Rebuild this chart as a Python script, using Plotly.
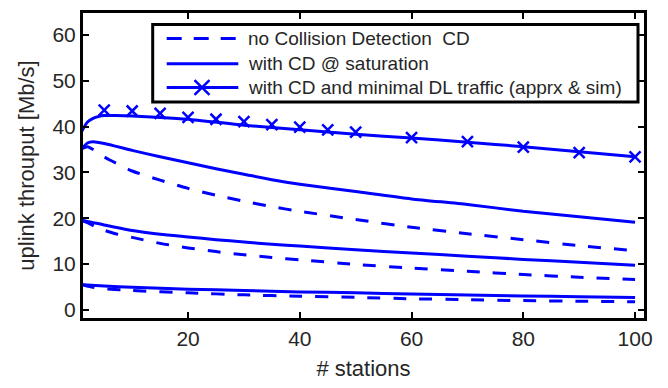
import plotly.graph_objects as go

# ---------------- data ----------------
x_dl_apprx = [1, 2, 3, 4, 5, 7, 10, 15, 20, 30, 40, 50, 60, 70, 80, 90, 100]
y_dl_apprx = [39.0, 41.0, 41.8, 42.2, 42.4, 42.4, 42.3, 42.0, 41.6, 40.3, 39.3, 38.3, 37.5, 36.6, 35.6, 34.5, 33.4]

x_dl_sim = [5, 10, 15, 20, 25, 30, 35, 40, 45, 50, 60, 70, 80, 90, 100]
y_dl_sim = [43.6, 43.4, 42.9, 42.0, 41.6, 41.1, 40.4, 39.9, 39.3, 38.8, 37.6, 36.7, 35.5, 34.3, 33.4]

x_a_sat = [1, 2, 3, 5, 10, 15, 20, 25, 30, 35, 40, 50, 60, 70, 80, 90, 100]
y_a_sat = [35.2, 36.4, 36.7, 36.3, 34.8, 33.4, 32.1, 30.8, 29.6, 28.4, 27.4, 25.8, 24.2, 23.0, 21.5, 20.3, 19.1]
x_a_nocd = [1, 2, 3, 4, 6, 10, 15, 20, 25, 30, 35, 40, 50, 60, 70, 80, 90, 100]
y_a_nocd = [35.2, 35.6, 35.0, 34.1, 32.7, 30.3, 28.3, 26.5, 25.0, 23.7, 22.5, 21.5, 19.7, 18.0, 16.6, 15.3, 14.0, 12.9]

x_b_sat = [1, 2, 5, 10, 15, 20, 25, 30, 35, 40, 50, 60, 70, 80, 90, 100]
y_b_sat = [19.5, 19.3, 18.5, 17.3, 16.5, 15.9, 15.3, 14.8, 14.3, 13.9, 13.1, 12.4, 11.7, 11.0, 10.4, 9.7]
x_b_nocd = [1, 2, 4, 7, 10, 15, 20, 25, 30, 35, 40, 50, 60, 70, 80, 90, 100]
y_b_nocd = [19.5, 19.0, 17.8, 16.6, 15.8, 14.5, 13.5, 12.7, 12.0, 11.4, 10.9, 9.9, 9.1, 8.4, 7.7, 7.1, 6.6]

x_c_sat = [1, 5, 10, 20, 30, 40, 50, 60, 70, 80, 90, 100]
y_c_sat = [5.5, 5.2, 4.9, 4.5, 4.2, 3.9, 3.7, 3.45, 3.2, 3.0, 2.85, 2.7]
x_c_nocd = [1, 3, 5, 10, 20, 30, 40, 50, 60, 70, 80, 90, 100]
y_c_nocd = [5.5, 4.9, 4.6, 4.2, 3.7, 3.25, 2.95, 2.7, 2.4, 2.2, 2.0, 1.85, 1.75]

legend_labels = ["no Collision Detection\u00a0 CD",
                 "with CD @ saturation",
                 "with CD and minimal DL traffic (apprx & sim)"]
x_ticks = [20, 40, 60, 80, 100]
y_ticks = [0, 10, 20, 30, 40, 50, 60]

# ---------------- style ----------------
BLUE = "#0000ff"
TXT = "#262626"
FONT = "Liberation Sans, Arial, sans-serif"
LW = 3
DASH = "13px,13px"

W, H = 668, 388
ML, MR, MT, MB = 83, 24, 10, 67
PW, PH = W - ML - MR, H - MT - MB


def px(xp):
    return (xp - ML) / PW


def py(yp):
    return (H - MB - yp) / PH


fig = go.Figure()


def line(x, y, dashed):
    fig.add_trace(go.Scatter(
        x=x, y=y, mode="lines", showlegend=False,
        line=dict(color=BLUE, width=LW, dash=DASH if dashed else "solid",
                  shape="spline", smoothing=0.6)))


line(x_a_nocd, y_a_nocd, True)
line(x_b_nocd, y_b_nocd, True)
line(x_c_nocd, y_c_nocd, True)
line(x_a_sat, y_a_sat, False)
line(x_b_sat, y_b_sat, False)
line(x_c_sat, y_c_sat, False)
line(x_dl_apprx, y_dl_apprx, False)
fig.add_trace(go.Scatter(
    x=x_dl_sim, y=y_dl_sim, mode="markers", showlegend=False,
    marker=dict(symbol="x-thin-open", size=11, color=BLUE,
                line=dict(color=BLUE, width=2.5))))

# ---------------- custom legend ----------------
shapes = []
annotations = []
shapes.append(dict(type="rect", xref="paper", yref="paper",
                   x0=px(152.7), x1=px(638), y0=py(21.7), y1=py(100.7),
                   line=dict(color="black", width=3), fillcolor="white", layer="above"))
rows = [36, 61.7, 86]
lx0, lx1 = 166.7, 238.3
for i, (ry, lab) in enumerate(zip(rows, legend_labels)):
    shapes.append(dict(type="line", xref="paper", yref="paper",
                       x0=px(lx0), x1=px(lx1), y0=py(ry), y1=py(ry),
                       line=dict(color=BLUE, width=LW,
                                 dash="15px,12px" if i == 0 else "solid"),
                       layer="above"))
    annotations.append(dict(xref="paper", yref="paper", x=px(245.5), y=py(ry),
                            xanchor="left", yanchor="middle", showarrow=False,
                            text=lab, font=dict(family=FONT, size=19, color=TXT)))
mx, my, r = 202, rows[2], 7.5
path = (f"M{px(mx - r)},{py(my - r)} L{px(mx + r)},{py(my + r)} "
        f"M{px(mx + r)},{py(my - r)} L{px(mx - r)},{py(my + r)}")
shapes.append(dict(type="path", xref="paper", yref="paper", path=path,
                   line=dict(color=BLUE, width=2.5), layer="above"))

axis_common = dict(showline=True, linecolor="black", linewidth=3, mirror="ticks",
                   ticks="inside", ticklen=6, tickwidth=2, tickcolor="black",
                   showgrid=False, zeroline=False,
                   tickfont=dict(family=FONT, size=21, color=TXT))

fig.update_layout(
    width=W, height=H,
    margin=dict(l=ML, r=MR, t=MT, b=MB),
    paper_bgcolor="white", plot_bgcolor="white",
    shapes=shapes, annotations=annotations,
    xaxis=dict(range=[1.2, 101.6], tickvals=x_ticks, **axis_common,
               title=dict(text="# stations", standoff=12,
                          font=dict(family=FONT, size=22, color=TXT))),
    yaxis=dict(range=[-1.8, 64.8], tickvals=y_ticks, **axis_common,
               title=dict(text="uplink throuput [Mb/s]", standoff=12,
                          font=dict(family=FONT, size=22, color=TXT))),
)

fig.write_html("out.html")
